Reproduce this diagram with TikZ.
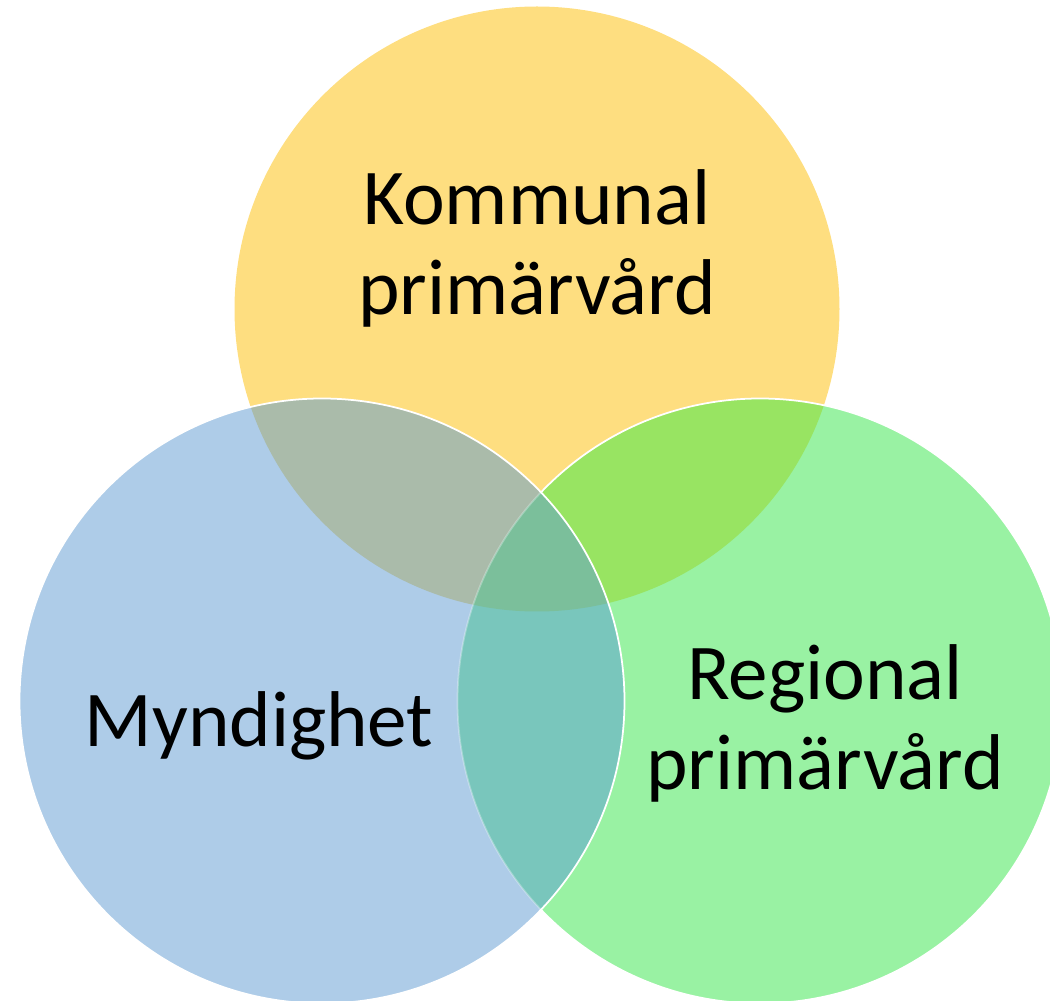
\documentclass[tikz,border=0pt]{standalone}
\usepackage{fontspec}
\setmainfont{Carlito}
\usepackage{tkz-euclide}
\definecolor{kommunal}{RGB}{254,222,128}
\definecolor{myndighet}{RGB}{174,204,232}
\definecolor{regional}{RGB}{153,242,163}
\definecolor{kommyn}{RGB}{170,187,170}
\definecolor{komreg}{RGB}{152,228,98}
\definecolor{mynreg}{RGB}{121,198,188}
\definecolor{alla}{RGB}{123,191,155}
\tikzset{rand/.style={white,line width=1pt},
  etikett/.style={font=\fontsize{45}{51.5}\selectfont,align=center,anchor=base}}
\begin{document}
\begin{tikzpicture}
\useasboundingbox (0,0) rectangle (21,20.02);
\tkzDefPoints{10.74/13.84/K,6.44/6.00/M,15.20/6.00/R}
\fill[kommunal] (K) circle (6.05);
\fill[regional] (R) circle (6.05);
\begin{scope}
  \clip (K) circle (6.05);
  \fill[komreg] (R) circle (6.05);
\end{scope}
\draw[rand] (R) circle (6.05);
\fill[myndighet] (M) circle (6.05);
\begin{scope}
  \clip (M) circle (6.05);
  \fill[kommyn] (K) circle (6.05);
  \fill[mynreg] (R) circle (6.05);
  \clip (K) circle (6.05);
  \fill[alla] (R) circle (6.05);
\end{scope}
\begin{scope}
  \clip (M) circle (6.05);
  \draw[rand,opacity=0.3] (R) circle (6.05);
\end{scope}
\draw[rand] (M) circle (6.05);
\node[etikett] (kom) at (10.74,13.72) {Kommunal\\primärvård};
\node[etikett] (reg) at (16.50,4.22) {Regional\\primärvård};
\node[etikett] (myn) at (5.18,5.08) {Myndighet};
\end{tikzpicture}
\end{document}
